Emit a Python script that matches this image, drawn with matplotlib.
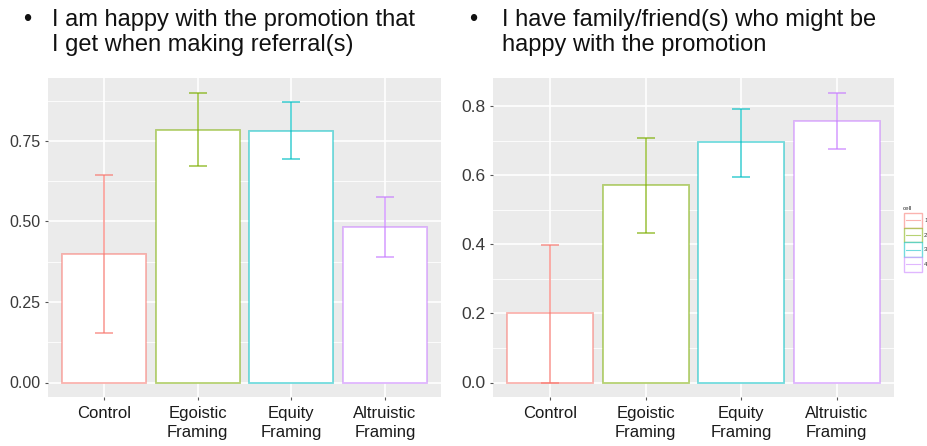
import matplotlib
matplotlib.use("Agg")
import matplotlib.pyplot as plt
from matplotlib.patches import Rectangle
from matplotlib.lines import Line2D
import numpy as np

plt.rcParams['font.family'] = ['Liberation Sans', 'DejaVu Sans']

categories = ["Control", "Egoistic\nFraming", "Equity\nFraming", "Altruistic\nFraming"]
cells = ["1", "2", "3", "4"]
colors = ["#F8766D", "#7CAE00", "#00BFC4", "#C77CFF"]

left_title = ["I am happy with the promotion that", "I get when making referral(s)"]
left_mean = [0.40, 0.785, 0.782, 0.483]
left_low = [0.155, 0.671, 0.694, 0.388]
left_high = [0.645, 0.900, 0.871, 0.576]
left_ticks = [0.00, 0.25, 0.50, 0.75]
left_ticklabels = ["0.00", "0.25", "0.50", "0.75"]

right_title = ["I have family/friend(s) who might be", "happy with the promotion"]
right_mean = [0.20, 0.571, 0.696, 0.758]
right_low = [0.0, 0.433, 0.596, 0.677]
right_high = [0.399, 0.708, 0.793, 0.840]
right_ticks = [0.0, 0.2, 0.4, 0.6, 0.8]
right_ticklabels = ["0.0", "0.2", "0.4", "0.6", "0.8"]

W, H = 927, 446
fig = plt.figure(figsize=(W / 100, H / 100), dpi=100)
fig.patch.set_facecolor("white")

ALPHA = 0.55


def panel(rect, mean, low, high, ticks, ticklabels, yfs):
    ax = fig.add_axes(rect)
    ax.set_facecolor("#EBEBEB")
    x = np.arange(1, len(categories) + 1)
    top = max(high)
    pad = 0.05 * top
    ax.set_ylim(-pad, top + pad)
    ax.set_xlim(0.4, len(categories) + 0.6)
    minors = [(ticks[i] + ticks[i + 1]) / 2 for i in range(len(ticks) - 1)]
    step = ticks[1] - ticks[0]
    minors.append(ticks[-1] + step / 2)
    for m in minors:
        if m < top + pad:
            ax.axhline(m, color="white", lw=0.6, zorder=0.5)
    for t in ticks:
        ax.axhline(t, color="white", lw=1.2, zorder=0.6)
    for xi in x:
        ax.axvline(xi, color="white", lw=1.2, zorder=0.6)
    ax.bar(x, mean, width=0.9, facecolor="white",
           edgecolor=[matplotlib.colors.to_rgba(c, ALPHA) for c in colors],
           linewidth=1.3, zorder=2)
    for xi, m, lo, hi, c in zip(x, mean, low, high, colors):
        ax.errorbar(xi, m, yerr=[[m - lo], [hi - m]], fmt="none",
                    ecolor=matplotlib.colors.to_rgba(c, ALPHA + 0.1),
                    elinewidth=1.3, capsize=6.8, capthick=1.3, zorder=3)
    ax.set_yticks(ticks)
    ax.set_yticklabels(ticklabels, fontsize=yfs, color="#3A3A3A")
    ax.set_xticks(x)
    ax.set_xticklabels(categories, fontsize=12, color="#1A1A1A", linespacing=1.3)
    ax.tick_params(axis="both", length=2.5, width=0.8, color="#555555", pad=3)
    ax.tick_params(axis="x", pad=4)
    for s in ax.spines.values():
        s.set_visible(False)
    return ax


ax1 = panel([48 / W, 1 - 397 / H, (441 - 48) / W, (397 - 78) / H],
            left_mean, left_low, left_high, left_ticks, left_ticklabels, 11.5)
ax2 = panel([492.7 / W, 1 - 397 / H, (894 - 492.7) / W, (397 - 78) / H],
            right_mean, right_low, right_high, right_ticks, right_ticklabels, 12.5)

TFS = 17
for bx, tx, lines in [(27, 52, left_title), (473, 502, right_title)]:
    fig.text(bx / W, 1 - 26 / H, "•", fontsize=TFS, va="baseline", ha="center", color="#111111")
    for i, line in enumerate(lines):
        fig.text(tx / W, 1 - (26 + 24.5 * i) / H, line, fontsize=TFS, va="baseline",
                 ha="left", color="#111111")

# legend
fig.text(903 / W, 1 - 208 / H, "cell", fontsize=4.5, color="#333333", va="center", ha="left")
kx, ky, kw, kh = 904, 213, 18, 14.7
for i, (lab, c) in enumerate(zip(cells, colors)):
    y0 = ky + i * kh
    fig.patches.append(Rectangle((kx / W, 1 - (y0 + kh) / H), kw / W, kh / H,
                                 transform=fig.transFigure, facecolor="white",
                                 edgecolor=matplotlib.colors.to_rgba(c, ALPHA),
                                 linewidth=1.0))
    fig.lines.append(Line2D([(kx + 2) / W, (kx + kw - 2) / W],
                            [1 - (y0 + kh / 2) / H] * 2, transform=fig.transFigure,
                            color=matplotlib.colors.to_rgba(c, ALPHA), lw=0.8))
    fig.text((kx + kw + 2) / W, 1 - (y0 + kh / 2) / H, lab, fontsize=4.5,
             color="#333333", va="center", ha="left")

fig.savefig("out.png", dpi=100)
